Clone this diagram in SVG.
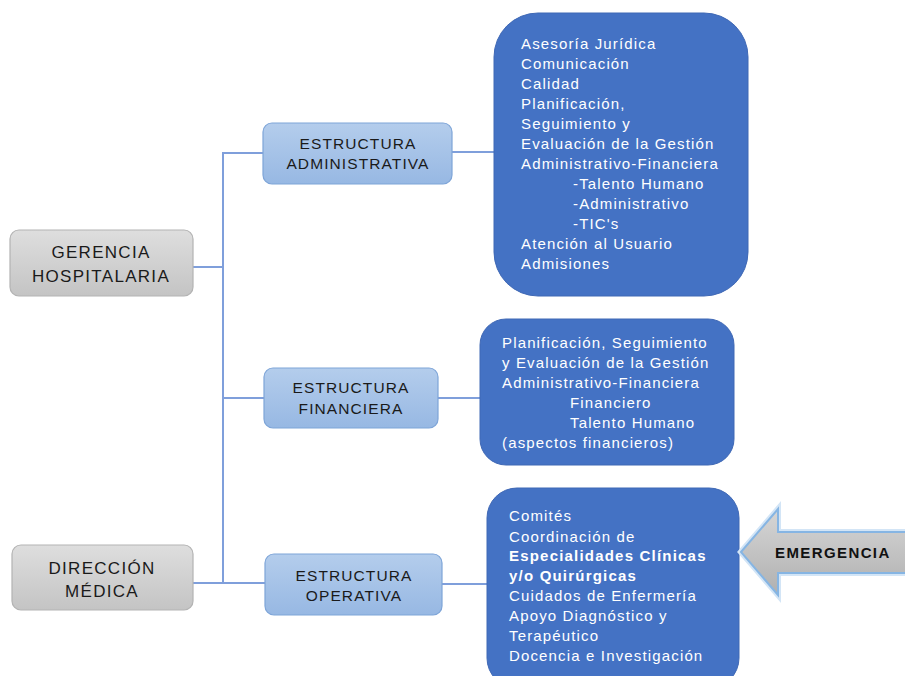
<svg xmlns="http://www.w3.org/2000/svg" width="905" height="676" viewBox="0 0 905 676">
<style>
.gray{fill:url(#gGray);stroke:#b3b3b3;stroke-width:1.2}
.lb{fill:url(#gBlue);stroke:#7ea5d8;stroke-width:1.2}
.big{fill:#4472c4;stroke:#3f68b5;stroke-width:1}
.lbl{font-family:"Liberation Sans",Arial,sans-serif;fill:#1a1a1a;text-anchor:middle}
.lbl17{font-size:17px;letter-spacing:1.3px}
.lbl16{font-size:15.5px;letter-spacing:1.1px}
.wt{font-family:"Liberation Sans",Arial,sans-serif;font-size:15px;letter-spacing:1.15px;fill:#ffffff}
.bd{font-weight:bold;letter-spacing:1.2px}
.con{stroke:#7f9fdb;stroke-width:2;fill:none}
</style>
<defs>
<linearGradient id="gGray" x1="0" y1="0" x2="0" y2="1">
<stop offset="0" stop-color="#dedede"/><stop offset="1" stop-color="#c4c4c4"/>
</linearGradient>
<linearGradient id="gBlue" x1="0" y1="0" x2="0" y2="1">
<stop offset="0" stop-color="#b4cdec"/><stop offset="1" stop-color="#97b8e3"/>
</linearGradient>
<linearGradient id="gArrow" x1="0" y1="0" x2="0" y2="1">
<stop offset="0" stop-color="#d6d6d6"/><stop offset="1" stop-color="#b0b0b0"/>
</linearGradient>
</defs>

<g id="connectors">
<line class="con" x1="223" y1="152" x2="223" y2="584"/>
<line class="con" x1="193" y1="267" x2="223" y2="267"/>
<line class="con" x1="223" y1="153" x2="264" y2="153"/>
<line class="con" x1="452" y1="152" x2="494" y2="152"/>
<line class="con" x1="223" y1="398" x2="264" y2="398"/>
<line class="con" x1="438" y1="398" x2="480" y2="398"/>
<line class="con" x1="193" y1="583" x2="265" y2="583"/>
<line class="con" x1="442" y1="584" x2="487" y2="584"/>
</g>

<g id="gerencia">
<rect class="gray" x="10" y="230" width="183" height="66" rx="9"/>
<text class="lbl lbl17" x="101" y="258">GERENCIA</text>
<text class="lbl lbl17" x="101" y="282">HOSPITALARIA</text>
</g>

<g id="direccion">
<rect class="gray" x="12" y="545" width="181" height="65" rx="9"/>
<text class="lbl lbl17" x="102" y="574">DIRECCIÓN</text>
<text class="lbl lbl17" x="102" y="597">MÉDICA</text>
</g>

<g id="est-admin">
<rect class="lb" x="263" y="123" width="189" height="61" rx="9"/>
<text class="lbl lbl16" x="358" y="149">ESTRUCTURA</text>
<text class="lbl lbl16" x="358" y="169">ADMINISTRATIVA</text>
</g>

<g id="est-fin">
<rect class="lb" x="264" y="368" width="174" height="60" rx="9"/>
<text class="lbl lbl16" x="351" y="393">ESTRUCTURA</text>
<text class="lbl lbl16" x="351" y="414">FINANCIERA</text>
</g>

<g id="est-op">
<rect class="lb" x="265" y="554" width="177" height="61" rx="9"/>
<text class="lbl lbl16" x="354" y="581">ESTRUCTURA</text>
<text class="lbl lbl16" x="354" y="601">OPERATIVA</text>
</g>

<g id="admin-detail">
<rect class="big" x="494" y="13" width="254" height="283" rx="44"/>
<text class="wt" x="521" y="49">Asesoría Jurídica</text>
<text class="wt" x="521" y="69">Comunicación</text>
<text class="wt" x="521" y="89">Calidad</text>
<text class="wt" x="521" y="109">Planificación,</text>
<text class="wt" x="521" y="129">Seguimiento y</text>
<text class="wt" x="521" y="149">Evaluación de la Gestión</text>
<text class="wt" x="521" y="169">Administrativo-Financiera</text>
<text class="wt" x="573" y="189">-Talento Humano</text>
<text class="wt" x="573" y="209">-Administrativo</text>
<text class="wt" x="573" y="229">-TIC's</text>
<text class="wt" x="521" y="249">Atención al Usuario</text>
<text class="wt" x="521" y="269">Admisiones</text>
</g>

<g id="fin-detail">
<rect class="big" x="480" y="319" width="254" height="146" rx="26"/>
<text class="wt" x="502" y="348">Planificación, Seguimiento</text>
<text class="wt" x="502" y="368">y Evaluación de la Gestión</text>
<text class="wt" x="502" y="388">Administrativo-Financiera</text>
<text class="wt" x="570" y="408">Financiero</text>
<text class="wt" x="570" y="428">Talento Humano</text>
<text class="wt" x="502" y="448">(aspectos financieros)</text>
</g>

<g id="op-detail">
<rect class="big" x="487" y="488" width="252" height="200" rx="30"/>
<text class="wt" x="509" y="521">Comités</text>
<text class="wt" x="509" y="542">Coordinación de</text>
<text class="wt bd" x="509" y="561">Especialidades Clínicas</text>
<text class="wt bd" x="509" y="581">y/o Quirúrgicas</text>
<text class="wt" x="509" y="601">Cuidados de Enfermería</text>
<text class="wt" x="509" y="621">Apoyo Diagnóstico y</text>
<text class="wt" x="509" y="641">Terapéutico</text>
<text class="wt" x="509" y="661">Docencia e Investigación</text>
</g>

<g id="emergencia">
<polygon points="741,552 778,509 778,532 910,532 910,573 778,573 778,595" fill="none" stroke="#d3e5f6" stroke-width="6" stroke-linejoin="miter"/>
<polygon points="741,552 778,509 778,532 910,532 910,573 778,573 778,595" fill="url(#gArrow)" stroke="#86b5e3" stroke-width="2"/>
<text x="775" y="558" font-family="'Liberation Sans',Arial,sans-serif" font-size="15" font-weight="bold" letter-spacing="1.4" fill="#111">EMERGENCIA</text>
</g>
</svg>
